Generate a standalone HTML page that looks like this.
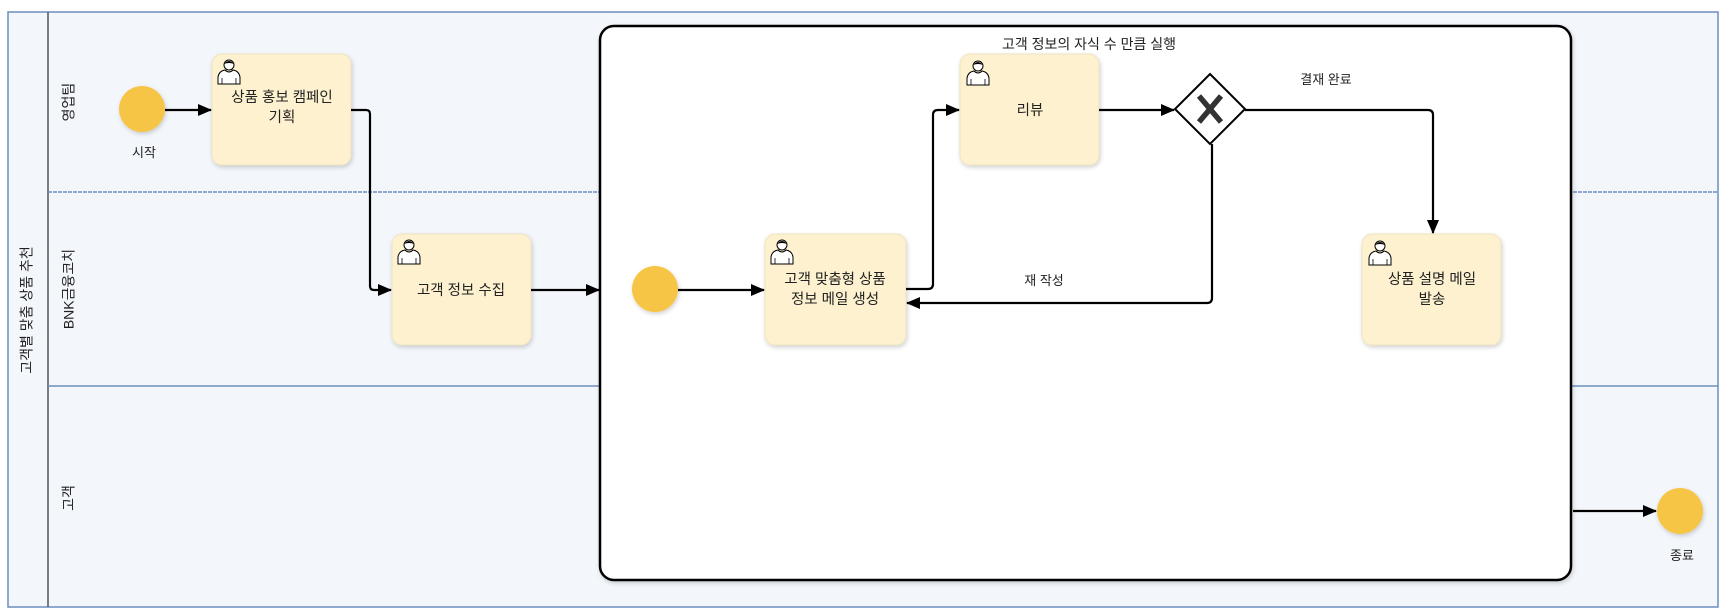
<!DOCTYPE html>
<html><head><meta charset="utf-8"><style>
html,body{margin:0;padding:0;background:#fff;}
svg{display:block;}
text{font-family:"Liberation Sans","Noto Sans CJK KR",sans-serif;fill:#222;}
</style></head><body>
<svg width="1724" height="614" viewBox="0 0 1724 614" xmlns="http://www.w3.org/2000/svg">
<defs>
<marker id="ar" markerWidth="14" markerHeight="12" refX="13" refY="6" orient="auto" markerUnits="userSpaceOnUse" viewBox="0 0 14 12"><path d="M0,0 L14,6 L0,12 z" fill="#000"/></marker>
<filter id="sh" x="-10%" y="-10%" width="130%" height="130%"><feDropShadow dx="1" dy="2" stdDeviation="2" flood-color="#000" flood-opacity="0.18"/></filter>
<g id="user"><circle cx="12" cy="8" r="5" fill="#fff" stroke="#000" stroke-width="1"/><path d="M7,7 Q12,1 17,7 Q12,5 7,7z" fill="#000"/><path d="M1,27 L1,20 Q2,14 8,13 Q12,17 16,13 Q22,14 23,20 L23,27 Z" fill="#fff" stroke="#000" stroke-width="1"/><path d="M5,27 L5,21 M19,27 L19,21" stroke="#000" stroke-width="0.8"/></g>
</defs>
<rect x="8" y="12" width="1710" height="595" fill="#f3f6fb" stroke="#6c8ebf" stroke-width="1.5"/>
<line x1="48" y1="12" x2="48" y2="607" stroke="#555" stroke-width="1.5"/>
<line x1="48" y1="192" x2="1718" y2="192" stroke="#6c8ebf" stroke-width="1.4" stroke-dasharray="4,1"/>
<line x1="48" y1="386" x2="1718" y2="386" stroke="#6c8ebf" stroke-width="1.5"/>
<text x="28" y="310" font-size="14" text-anchor="middle" dominant-baseline="middle" transform="rotate(-90 28 310)">고객별 맞춤 상품 추천</text>
<text x="70" y="102" font-size="14" text-anchor="middle" dominant-baseline="middle" transform="rotate(-90 70 102)">영업팀</text>
<text x="70" y="289" font-size="14" text-anchor="middle" dominant-baseline="middle" transform="rotate(-90 70 289)">BNK금융코치</text>
<text x="70" y="498" font-size="14" text-anchor="middle" dominant-baseline="middle" transform="rotate(-90 70 498)">고객</text>

<rect x="600" y="26" width="971" height="554" rx="14" fill="#fff" stroke="#000" stroke-width="2.5" filter="url(#sh)"/>
<text x="1089" y="49" font-size="14" text-anchor="middle">고객 정보의 자식 수 만큼 실행</text>

<circle cx="142" cy="109" r="23" fill="#f7c544" filter="url(#sh)"/>
<text x="144" y="157" font-size="13" text-anchor="middle">시작</text>
<circle cx="655" cy="289" r="23" fill="#f7c544" filter="url(#sh)"/>
<circle cx="1680" cy="511" r="23" fill="#f7c544" filter="url(#sh)"/>
<text x="1682" y="560" font-size="13" text-anchor="middle">종료</text>

<g font-size="14.5" text-anchor="middle">
<rect x="212" y="54" width="139" height="111" rx="10" fill="#fdf1d0" stroke="#f0e4c0" filter="url(#sh)"/>
<use href="#user" x="217" y="57"/>
<text x="282" y="102">상품 홍보 캠페인</text><text x="282" y="122">기획</text>

<rect x="392" y="234" width="139" height="111" rx="10" fill="#fdf1d0" stroke="#f0e4c0" filter="url(#sh)"/>
<use href="#user" x="397" y="237"/>
<text x="461" y="295">고객 정보 수집</text>

<rect x="765" y="234" width="141" height="111" rx="10" fill="#fdf1d0" stroke="#f0e4c0" filter="url(#sh)"/>
<use href="#user" x="770" y="237"/>
<text x="835" y="284">고객 맞춤형 상품</text><text x="835" y="304">정보 메일 생성</text>

<rect x="960" y="54" width="139" height="111" rx="10" fill="#fdf1d0" stroke="#f0e4c0" filter="url(#sh)"/>
<use href="#user" x="966" y="58"/>
<text x="1030" y="115">리뷰</text>

<rect x="1362" y="234" width="139" height="111" rx="10" fill="#fdf1d0" stroke="#f0e4c0" filter="url(#sh)"/>
<use href="#user" x="1368" y="238"/>
<text x="1432" y="284">상품 설명 메일</text><text x="1432" y="304">발송</text>
</g>

<path d="M1210,74 L1245,109 L1210,144 L1175,109 Z" fill="#fff" stroke="#000" stroke-width="2"/>
<path d="M1199,96 L1221,122 M1221,96 L1199,122" stroke="#333" stroke-width="5.5" stroke-linecap="butt"/>

<g fill="none" stroke="#000" stroke-width="2.2">
<path d="M165,110 L211,110" marker-end="url(#ar)"/>
<path d="M351,110 L366,110 Q370,110 370,114 L370,286 Q370,290 374,290 L391,290" marker-end="url(#ar)"/>
<path d="M531,290 L599,290" marker-end="url(#ar)"/>
<path d="M678,290 L764,290" marker-end="url(#ar)"/>
<path d="M906,289 L928,289 Q933,289 933,284 L933,115 Q933,110 938,110 L959,110" marker-end="url(#ar)"/>
<path d="M1099,110 L1174,110" marker-end="url(#ar)"/>
<path d="M1245,110 L1428,110 Q1433,110 1433,115 L1433,233" marker-end="url(#ar)"/>
<path d="M1212,144 L1212,298 Q1212,303 1207,303 L907,303" marker-end="url(#ar)"/>
<path d="M1573,511 L1656,511" marker-end="url(#ar)"/>
</g>
<text x="1326" y="84" font-size="13" text-anchor="middle">결재 완료</text>
<text x="1044" y="285" font-size="13" text-anchor="middle">재 작성</text>
</svg>
</body></html>
